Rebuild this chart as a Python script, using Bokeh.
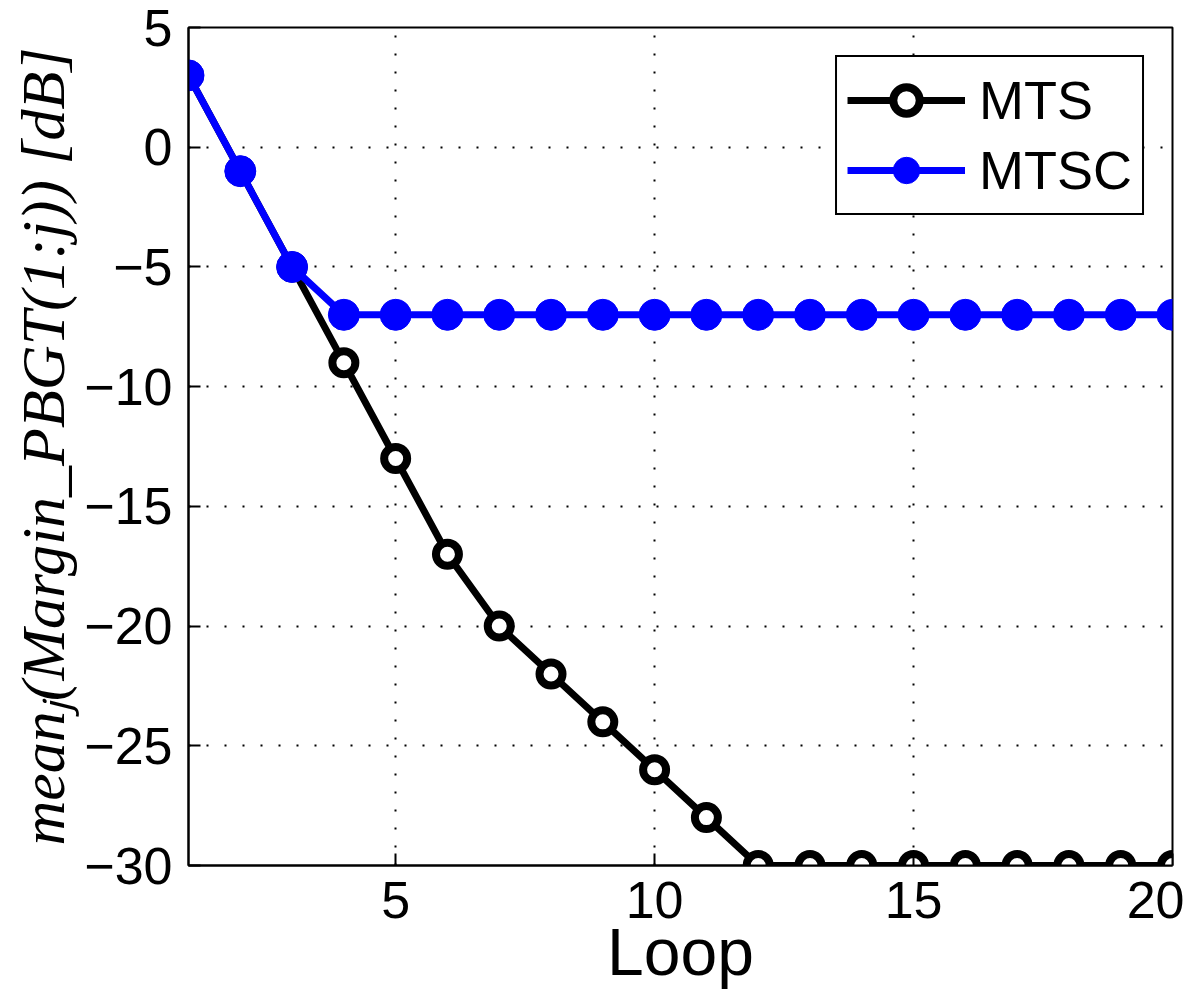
from bokeh.plotting import figure
from bokeh.models import Range1d, FixedTicker
from bokeh.embed import file_html
from bokeh.resources import INLINE

# ---- data ----
loops = list(range(1, 21))
mts = [3, -1, -5, -9, -13, -17, -20, -22, -24, -26, -28, -30,
       -30, -30, -30, -30, -30, -30, -30, -30]
mtsc = [3, -1, -5, -7, -7, -7, -7, -7, -7, -7, -7, -7,
        -7, -7, -7, -7, -7, -7, -7, -7]
x_ticks = [5, 10, 15, 20]
y_ticks = [-30, -25, -20, -15, -10, -5, 0, 5]
series_names = ["MTS", "MTSC"]

FONT = "Liberation Sans"

p = figure(width=1184, height=991, output_backend="svg", toolbar_location=None,
           x_range=Range1d(1, 20), y_range=Range1d(-30, 5),
           min_border_left=188, min_border_right=12,
           min_border_top=27, min_border_bottom=125)
p.background_fill_color = "white"
p.border_fill_color = "white"
p.outline_line_color = "black"
p.outline_line_width = 2
p.outline_line_alpha = 1

# MTS (black, open circles)
p.line(loops, mts, line_color="black", line_width=7, line_join="round",
       legend_label=series_names[0])
p.scatter(loops, mts, size=23, marker="circle", fill_color="white",
          line_color="black", line_width=8, legend_label=series_names[0])

# MTSC (blue, filled circles)
p.line(loops, mtsc, line_color="#0000ff", line_width=7, line_join="round",
       legend_label=series_names[1])
p.scatter(loops, mtsc, size=31, marker="circle", fill_color="#0000ff",
          line_color="#0000ff", line_width=1, legend_label=series_names[1])

# axes
for ax in (p.xaxis[0], p.yaxis[0]):
    ax.axis_line_color = "black"
    ax.axis_line_width = 2
    ax.major_tick_line_color = "black"
    ax.major_tick_line_width = 2
    ax.major_tick_in = 12
    ax.major_tick_out = 0
    ax.minor_tick_line_color = None
    ax.major_label_text_font = FONT
    ax.major_label_text_font_size = "52px"
    ax.major_label_text_color = "black"

p.xaxis.ticker = FixedTicker(ticks=x_ticks)
p.yaxis.ticker = FixedTicker(ticks=y_ticks)
p.yaxis.major_label_overrides = {v: ("\u2212" + str(-v) if v < 0 else str(v)) for v in y_ticks}
p.xaxis.major_label_standoff = 16
p.yaxis.major_label_standoff = 16

p.xaxis.axis_label = "Loop"
p.xaxis.axis_label_text_font = FONT
p.xaxis.axis_label_text_font_size = "66px"
p.xaxis.axis_label_text_font_style = "normal"
p.xaxis.axis_label_text_color = "black"
p.xaxis.axis_label_standoff = -6

p.yaxis.axis_label = "mean\u2c7c(Margin_PBGT(1:j)) [dB]"
p.yaxis.axis_label_text_font = "Liberation Serif"
p.yaxis.axis_label_text_font_size = "62px"
p.yaxis.axis_label_text_font_style = "italic"
p.yaxis.axis_label_text_color = "black"
p.yaxis.axis_label_standoff = 4

# grid
for g in (p.xgrid[0], p.ygrid[0]):
    g.grid_line_color = "black"
    g.grid_line_alpha = 1
    g.grid_line_width = 2
    g.grid_line_dash = "2 16"
p.xgrid.ticker = FixedTicker(ticks=x_ticks)
p.ygrid.ticker = FixedTicker(ticks=y_ticks)

# legend
lg = p.legend[0]
lg.location = "top_right"
lg.margin = 28
lg.border_line_color = "black"
lg.border_line_alpha = 1
lg.border_line_width = 2
lg.background_fill_color = "white"
lg.background_fill_alpha = 1
lg.label_text_font = FONT
lg.label_text_font_size = "54px"
lg.label_text_color = "black"
lg.glyph_width = 118
lg.glyph_height = 66
lg.label_height = 66
lg.spacing = 4
lg.padding = 10
lg.label_standoff = 14

open("out.html", "w").write(file_html(p, INLINE))
